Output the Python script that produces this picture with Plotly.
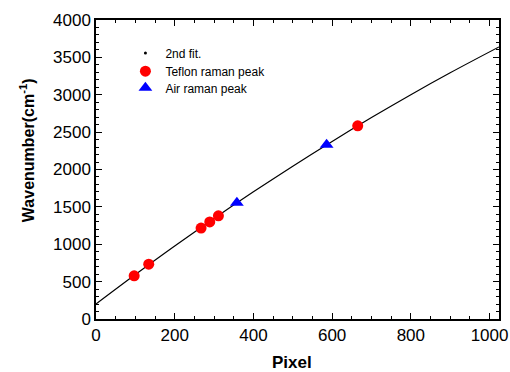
import plotly.graph_objects as go

# Teflon Raman peaks (pixel, wavenumber)
teflon_pixel = [97, 134, 267, 289, 311, 665]
teflon_wn = [577, 733, 1216, 1299, 1381, 2585]

# Air Raman peaks (O2, N2)
air_pixel = [358, 586]
air_wn = [1556, 2331]

# 2nd-order fit curve
fit_pixel = [0, 100, 200, 300, 400, 500, 600, 700, 800, 900, 1024]
fit_wn = [200, 594, 976, 1345, 1701, 2045, 2376, 2695, 3001, 3294, 3640]

x_ticks = [0, 200, 400, 600, 800, 1000]
y_ticks = [0, 500, 1000, 1500, 2000, 2500, 3000, 3500, 4000]

FONT = "Liberation Sans, Arial, sans-serif"

fig = go.Figure()
fig.add_trace(go.Scatter(x=fit_pixel, y=fit_wn, mode="lines", line=dict(color="black", width=1.2, shape="spline"),
                         showlegend=False, hoverinfo="skip"))
fig.add_trace(go.Scatter(x=[None], y=[None], mode="markers", name="2nd fit.", legend="legend",
                         marker=dict(color="black", size=3, symbol="circle")))
fig.add_trace(go.Scatter(x=teflon_pixel, y=teflon_wn, mode="markers", name="Teflon raman peak", legend="legend2",
                         marker=dict(color="#ff0000", size=11, symbol="circle", line=dict(width=0))))
fig.add_trace(go.Scatter(x=air_pixel, y=air_wn, mode="markers", name="Air raman peak", legend="legend3",
                         marker=dict(color="#0000ff", size=12, symbol="triangle-up", line=dict(width=0))))

axis_common = dict(
    showline=True, linecolor="black", linewidth=1.5, mirror="ticks",
    ticks="inside", ticklen=6, tickwidth=1.2, tickcolor="black",
    showgrid=False, zeroline=False, automargin=False,
    tickfont=dict(family=FONT, size=17, color="black"),
)

fig.update_xaxes(range=[0, 1024], tickvals=x_ticks, **axis_common,
                 minor=dict(dtick=50, tick0=0, ticks="inside", ticklen=3, tickcolor="black", tickwidth=1, showgrid=False))
fig.update_yaxes(range=[0, 4000], tickvals=y_ticks, **axis_common,
                 minor=dict(dtick=100, tick0=0, ticks="inside", ticklen=3, tickcolor="black", tickwidth=1, showgrid=False))

legend_common = dict(xanchor="left", yanchor="middle", bgcolor="rgba(0,0,0,0)",
                     font=dict(family=FONT, size=12, color="black"), tracegroupgap=0)

fig.update_layout(
    width=510, height=372,
    margin=dict(l=96, r=11, t=20, b=53),
    plot_bgcolor="white", paper_bgcolor="white",
    font=dict(family=FONT, color="black"),
    legend=dict(x=0.073, y=0.890, **legend_common),
    legend2=dict(x=0.073, y=0.829, **legend_common),
    legend3=dict(x=0.073, y=0.773, **legend_common),
    annotations=[
        dict(text="<b>Pixel</b>", xref="paper", yref="paper", x=0.486, y=-0.147,
             xanchor="center", yanchor="middle", showarrow=False,
             font=dict(family=FONT, size=17, color="black")),
        dict(text="<b>Wavenumber(cm<sup>-1</sup>)</b>", xref="paper", yref="paper", x=-0.171, y=0.565,
             xanchor="center", yanchor="middle", textangle=-90, showarrow=False,
             font=dict(family=FONT, size=16, color="black")),
    ],
)

fig.write_html("out.html")
